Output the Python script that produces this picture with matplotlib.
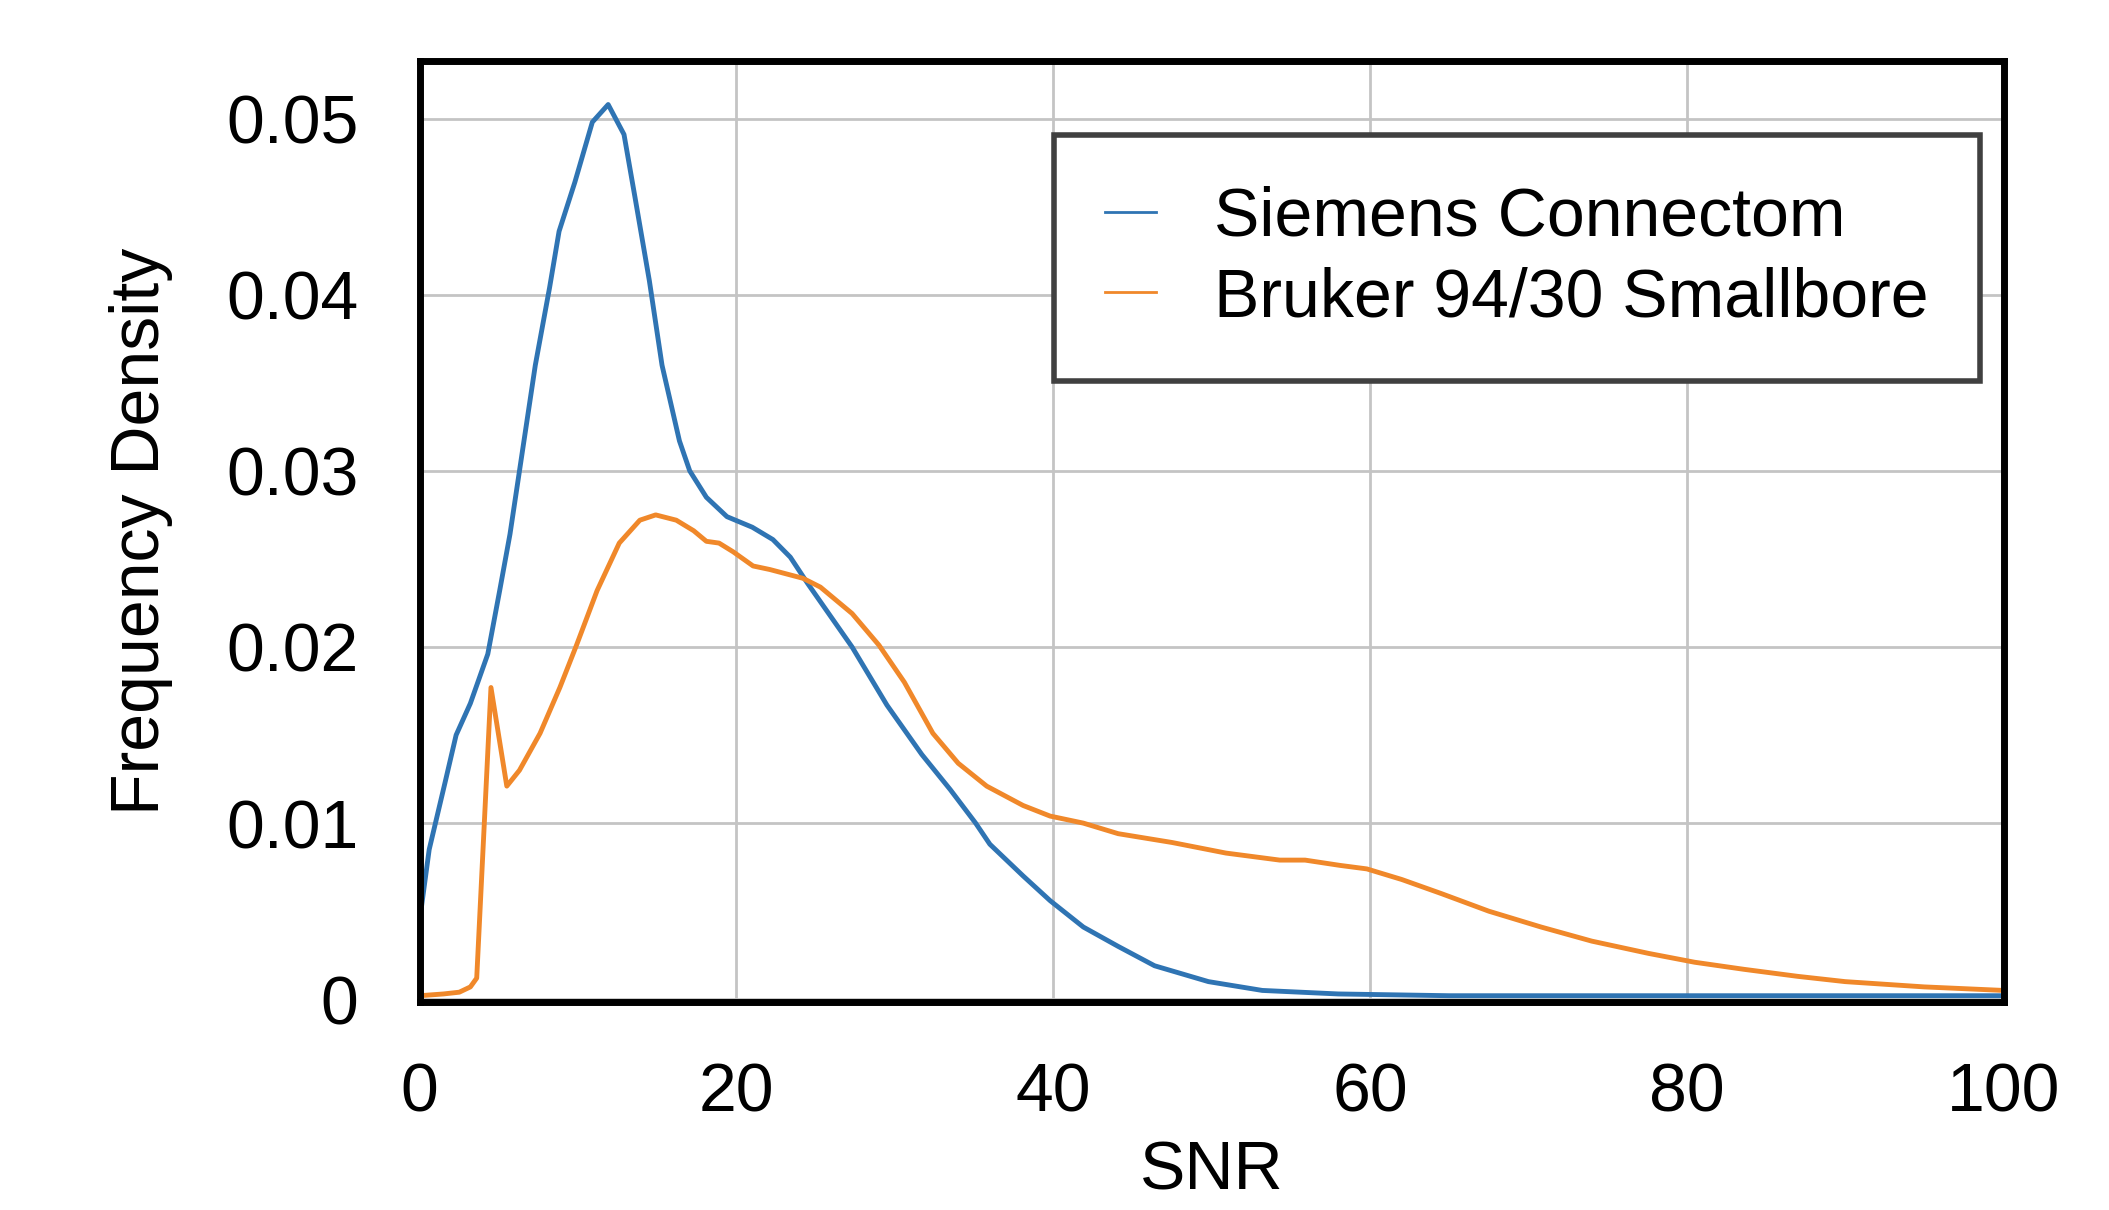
#!/usr/bin/env python

"""
SNR frequency density for the two scanners.
"""

import matplotlib
matplotlib.use('Agg')
import matplotlib.pyplot as plt

# values
snr_siemens = [0, 0.6, 1.6, 2.3, 3.2, 4.3, 5.05, 5.7, 6.3, 7.3,
               8.2, 8.8, 9.8, 10.9, 11.9, 12.9, 13.6, 14.5, 15.3, 16.4,
               17.05, 18.1, 19.4, 21.0, 22.3, 23.4, 24.5, 27.3, 29.5, 31.7,
               33.5, 35.1, 36, 38.1, 39.8, 41.9, 44.1, 46.4, 49.8, 53.2,
               58, 65, 80, 100]
dens_siemens = [0.0045, 0.0085, 0.0123, 0.0150, 0.0168, 0.0196, 0.0232, 0.0264, 0.0300, 0.0360,
                0.0404, 0.0436, 0.0464, 0.0498, 0.0508, 0.0491, 0.0455, 0.0408, 0.0360, 0.0317,
                0.0300, 0.0285, 0.0274, 0.0268, 0.0261, 0.0251, 0.0236, 0.0200, 0.0167, 0.0139,
                0.0119, 0.0100, 0.0088, 0.0070, 0.0056, 0.0041, 0.0030, 0.0019, 0.0010, 0.0005,
                0.0003, 0.0002, 0.0002, 0.0002]

snr_bruker = [0, 1.5, 2.5, 3.2, 3.6, 4.5, 5.5, 6.3, 7.6, 8.85,
              9.9, 11.2, 12.6, 13.9, 14.9, 16.2, 17.3, 18.1, 18.9, 19.8,
              21.05, 22.1, 24.2, 25.3, 27.3, 29.0, 30.6, 32.4, 34.0, 35.8,
              38.1, 39.8, 41.9, 44.1, 47.5, 50.9, 54.3, 55.9, 58.1, 59.8,
              62, 64.5, 67.5, 70.8, 74, 77.6, 80.5, 83.6, 87, 90,
              95, 100]
dens_bruker = [0.0002, 0.0003, 0.0004, 0.0007, 0.0012, 0.0177, 0.0121, 0.0130, 0.0151, 0.0177,
               0.0201, 0.0232, 0.0259, 0.0272, 0.0275, 0.0272, 0.0266, 0.0260, 0.0259, 0.0254,
               0.0246, 0.0244, 0.0239, 0.0234, 0.0219, 0.0201, 0.0180, 0.0151, 0.0134, 0.0121,
               0.0110, 0.0104, 0.0100, 0.0094, 0.0089, 0.0083, 0.0079, 0.0079, 0.0076, 0.0074,
               0.0068, 0.0060, 0.0050, 0.0041, 0.0033, 0.0026, 0.0021, 0.0017, 0.0013, 0.0010,
               0.0007, 0.0005]

labels = ['Siemens Connectom', 'Bruker 94/30 Smallbore']
x_ticks = [0, 20, 40, 60, 80, 100]
y_ticks = [0, 0.01, 0.02, 0.03, 0.04, 0.05]
y_tick_labels = ['0', '0.01', '0.02', '0.03', '0.04', '0.05']

FS = 49  # font size in pt at dpi 100


def get_plot(outfile):
    plt.rcParams['font.family'] = ['Liberation Sans', 'DejaVu Sans']
    fig = plt.figure(figsize=(21.09, 12.10), dpi=100)
    ax = fig.add_axes([0.199, 0.172, 0.751, 0.778])

    ax.plot(snr_siemens, dens_siemens, color='#2f74b3', lw=3.5, label=labels[0])
    ax.plot(snr_bruker, dens_bruker, color='#f0882a', lw=3.5, label=labels[1])

    ax.set_xlim(0, 100)
    ax.set_ylim(-0.00015, 0.0533)
    ax.set_xticks(x_ticks)
    ax.set_yticks(y_ticks)
    ax.set_yticklabels(y_tick_labels)
    ax.tick_params(length=0, labelsize=FS)
    ax.tick_params(axis='x', pad=43)
    ax.tick_params(axis='y', pad=44)
    ax.grid(True, color='#c4c4c4', lw=2)
    ax.set_axisbelow(True)
    for sp in ax.spines.values():
        sp.set_linewidth(5)
        sp.set_color('black')

    ax.set_xlabel('SNR', fontsize=FS, labelpad=10)
    ax.set_ylabel('Frequency Density', fontsize=FS, labelpad=38)

    leg = ax.legend(loc='upper right', bbox_to_anchor=(0.985, 0.921), fontsize=FS,
                    fancybox=False, framealpha=1, edgecolor='#404040',
                    borderpad=0.75, labelspacing=0.24, handlelength=0.75,
                    handletextpad=0.85, borderaxespad=0)
    leg.get_frame().set_linewidth(4)
    for line in leg.get_lines():
        line.set_linewidth(2)

    fig.savefig(outfile, dpi=100)


if __name__ == '__main__':
    get_plot('out.png')
